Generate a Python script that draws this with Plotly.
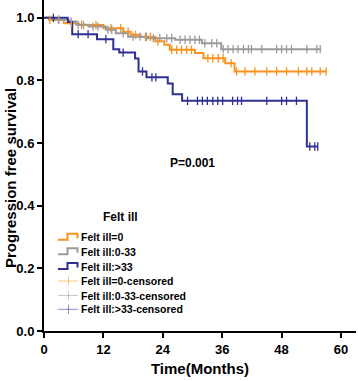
import plotly.graph_objects as go

# ---------------- data ----------------
groups = ["Felt ill=0", "Felt ill:0-33", "Felt ill:>33"]
colors = ["#F7931E", "#9B9B9B", "#2E3192"]
light_colors = ["rgba(247,147,30,0.55)", "rgba(155,155,155,0.55)", "rgba(46,49,146,0.55)"]

orange_t = [0, 1.0, 4.0, 7.0, 12.0, 16.0, 17.5, 19.5, 22.5, 24.3, 25.4, 30.5, 32.2, 36.6, 38.5]
orange_s = [1.0, 0.994, 0.983, 0.977, 0.967, 0.956, 0.946, 0.939, 0.925, 0.914, 0.898, 0.888, 0.871, 0.855, 0.829]
orange_end = 57.0
orange_cens = [1.2, 2.9, 5.5, 8.0, 10.5, 13.5, 15.5, 17.0, 18.5, 20.5, 21.5, 23.0, 25.8, 26.8, 27.8,
               28.8, 29.8, 33.1, 34.1, 35.2, 36.2, 37.8, 38.9, 40.6, 42.6, 45.0, 47.0, 49.0, 51.4,
               53.1, 54.1, 55.8, 57.0]

gray_t = [0, 2.0, 5.0, 6.5, 9.0, 12.5, 14.5, 17.0, 21.0, 26.5, 31.9, 35.8]
gray_s = [1.0, 0.994, 0.988, 0.978, 0.972, 0.962, 0.951, 0.940, 0.935, 0.930, 0.919, 0.900]
gray_end = 56.0
gray_cens = [3.0, 5.5, 6.9, 7.6, 9.9, 10.9, 12.9, 13.7, 16.0, 18.0, 19.4, 20.7, 22.1, 23.4, 24.8,
             25.8, 27.5, 28.5, 29.5, 30.5, 31.4, 32.5, 33.9, 34.9, 36.2, 37.2, 38.2, 39.2, 40.3,
             41.3, 41.9, 44.0, 47.0, 48.0, 49.0, 50.0, 53.1, 55.1, 55.8]

navy_t = [0, 4.8, 5.7, 10.7, 14.0, 15.2, 18.4, 19.1, 20.7, 25.0, 26.0, 27.9, 53.1]
navy_s = [1.0, 0.987, 0.948, 0.932, 0.900, 0.889, 0.870, 0.829, 0.810, 0.790, 0.756, 0.735, 0.589]
navy_end = 55.3
navy_cens = [1.9, 6.9, 8.9, 12.5, 16.0, 19.9, 21.8, 22.6, 29.0, 31.0, 32.0, 33.0, 34.1, 35.1,
             36.1, 38.1, 39.1, 39.9, 45.0, 48.0, 49.0, 51.0, 53.7, 54.7, 55.3]

x_ticks = [0, 12, 24, 36, 48, 60]
y_ticks = [0.0, 0.2, 0.4, 0.6, 0.8, 1.0]
y_tick_labels = ["0.0", "0.2", "0.4", "0.6", "0.8", "1.0"]
x_title = "Time(Months)"
y_title = "Progression free survival"
p_text = "P=0.001"
legend_title = "Felt ill"
legend_labels = ["Felt ill=0", "Felt ill:0-33", "Felt ill:>33",
                 "Felt ill=0-censored", "Felt ill:0-33-censored", "Felt ill:>33-censored"]

series = [(orange_t, orange_s, orange_end, orange_cens),
          (gray_t, gray_s, gray_end, gray_cens),
          (navy_t, navy_s, navy_end, navy_cens)]


def surv_at(t_list, s_list, t):
    val = s_list[0]
    for tt, ss in zip(t_list, s_list):
        if tt <= t:
            val = ss
    return val


FONT = "Liberation Sans, Arial, Helvetica, sans-serif"

fig = go.Figure()
for i, (t, s, end, cens) in enumerate(series):
    fig.add_trace(go.Scatter(
        x=t + [end], y=s + [s[-1]], mode="lines",
        line=dict(color=colors[i], width=2, shape="hv"),
        name=groups[i], showlegend=False, hoverinfo="skip"))
for i, (t, s, end, cens) in enumerate(series):
    fig.add_trace(go.Scatter(
        x=cens, y=[surv_at(t, s, c) for c in cens], mode="markers",
        marker=dict(symbol="line-ns", size=6, line=dict(color=colors[i], width=1.3)),
        name=groups[i] + "-censored", showlegend=False, hoverinfo="skip"))

W, H = 358, 381
L, R, B = 44, 2, 50
PW, PH = W - L - R, H - B
X_MAX = PW / 4.95


def px_to_paper(px, py):
    return (px - L) / PW, (H - B - py) / PH


shapes = []
annotations = []

# y-axis title (placed as rotated annotation)
yx, yy = px_to_paper(10, 178)
annotations.append(dict(x=yx, y=yy, xref="paper", yref="paper", text=y_title, textangle=-90,
                        showarrow=False, xanchor="center", yanchor="middle",
                        font=dict(family=FONT, size=15, color="black", weight="bold")))

# legend title
tx, ty = px_to_paper(120, 217)
annotations.append(dict(x=tx, y=ty, xref="paper", yref="paper", text=legend_title,
                        showarrow=False, xanchor="center", yanchor="middle",
                        font=dict(family=FONT, size=12, color="black", weight="bold")))
rows = [237.3, 251.7, 266.5, 281.0, 295.5, 309.3]
for k, lab in enumerate(legend_labels):
    cy = rows[k]
    lx, ly = px_to_paper(79, cy)
    annotations.append(dict(x=lx, y=ly, xref="paper", yref="paper", text=lab,
                            showarrow=False, xanchor="left", yanchor="middle",
                            font=dict(family=FONT, size=10.5, color="black", weight="bold")))
    if k < 3:
        pts = [(58, cy + 2.5), (67.5, cy + 2.5), (67.5, cy - 3.5), (77.5, cy - 3.5), (77.5, cy + 1)]
        pp = [px_to_paper(a, b) for a, b in pts]
        path = "M " + " L ".join(f"{a:.5f},{b:.5f}" for a, b in pp)
        shapes.append(dict(type="path", path=path, xref="paper", yref="paper",
                           line=dict(color=colors[k], width=2)))
    else:
        c = k - 3
        x0, y0 = px_to_paper(58, cy)
        x1, _ = px_to_paper(78, cy)
        shapes.append(dict(type="line", x0=x0, x1=x1, y0=y0, y1=y0, xref="paper", yref="paper",
                           line=dict(color=light_colors[c], width=1)))
        vx, vy0 = px_to_paper(68.5, cy - 4.5)
        _, vy1 = px_to_paper(68.5, cy + 4.5)
        shapes.append(dict(type="line", x0=vx, x1=vx, y0=vy0, y1=vy1, xref="paper", yref="paper",
                           line=dict(color=light_colors[c], width=1)))

# white mask along the right edge of the figure (background only)
mx0, my0 = px_to_paper(351, 327)
mx1, my1 = px_to_paper(W + 2, -2)
shapes.append(dict(type="rect", x0=mx0, x1=mx1, y0=my0, y1=my1, xref="paper", yref="paper",
                   fillcolor="white", line=dict(width=0), layer="above"))

annotations.append(dict(x=29.9, y=0.537, xref="x", yref="y", text=p_text, showarrow=False,
                        xanchor="center", yanchor="middle",
                        font=dict(family=FONT, size=12, color="black", weight="bold")))

fig.update_layout(
    width=W, height=H,
    margin=dict(l=L, r=R, t=0, b=B),
    paper_bgcolor="white", plot_bgcolor="white",
    showlegend=False, dragmode=False,
    shapes=shapes, annotations=annotations,
    xaxis=dict(range=[0, X_MAX], tickvals=x_ticks, ticks="outside", ticklen=5, tickwidth=2,
               tickcolor="black", showline=True, linecolor="black", linewidth=2, mirror=False,
               showgrid=False, zeroline=False, automargin=False,
               tickfont=dict(family=FONT, size=13, color="black", weight="bold"),
               title=dict(text=x_title, standoff=8,
                          font=dict(family=FONT, size=15, color="black", weight="bold"))),
    yaxis=dict(range=[0, 1.057], tickvals=y_ticks, ticktext=y_tick_labels, ticks="outside",
               ticklen=5, tickwidth=2, tickcolor="black", showline=True, linecolor="black",
               linewidth=2, mirror=False, showgrid=False, zeroline=False, automargin=False,
               tickfont=dict(family=FONT, size=13, color="black", weight="bold")),
)

fig.write_html("out.html", config={"displayModeBar": False, "staticPlot": True},
               post_script="document.body.style.margin='0';document.body.style.padding='0';"
                           "document.body.style.overflow='hidden';"
                           "document.documentElement.style.overflow='hidden';")
